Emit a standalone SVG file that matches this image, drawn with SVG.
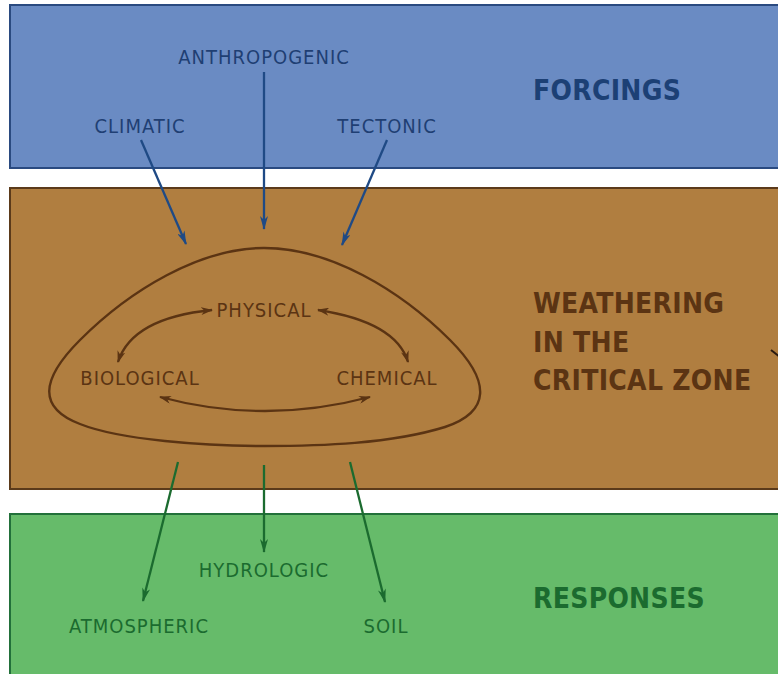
<svg xmlns="http://www.w3.org/2000/svg" width="778" height="674" viewBox="0 0 778 674">
  <style>
    .lbl { font-family: "DejaVu Sans Condensed", "DejaVu Sans", "Liberation Sans", sans-serif; font-stretch: condensed; font-size: 20px; text-anchor: middle; letter-spacing: 1px; }
    .ttl { font-family: "DejaVu Sans Condensed", "DejaVu Sans", "Liberation Sans", sans-serif; font-stretch: condensed; font-weight: bold; font-size: 28px; letter-spacing: 0.3px; }
    .blue { fill: #1f3f73; }
    .brown { fill: #5b3413; }
    .green { fill: #1b6b2f; }
    .aBlue { stroke: #1f4a85; stroke-width: 2.3; fill: none; marker-end: url(#hBlue); }
    .aGreen { stroke: #1b6b2f; stroke-width: 2.3; fill: none; marker-end: url(#hGreen); }
    .aBrown { stroke: #5b3413; stroke-width: 2.3; fill: none; marker-start: url(#hBrownS); marker-end: url(#hBrown); }
  </style>
  <defs>
    <marker id="hBlue" viewBox="0 0 14 8" refX="13" refY="4" markerWidth="14" markerHeight="8" markerUnits="userSpaceOnUse" orient="auto">
      <path d="M0,0 L14,4 L0,8 L4,4 Z" fill="#1f4a85"/>
    </marker>
    <marker id="hGreen" viewBox="0 0 14 8" refX="13" refY="4" markerWidth="14" markerHeight="8" markerUnits="userSpaceOnUse" orient="auto">
      <path d="M0,0 L14,4 L0,8 L4,4 Z" fill="#1b6b2f"/>
    </marker>
    <marker id="hBrown" viewBox="0 0 12 8" refX="11" refY="4" markerWidth="12" markerHeight="8" markerUnits="userSpaceOnUse" orient="auto">
      <path d="M0,0 L12,4 L0,8 L3.5,4 Z" fill="#5b3413"/>
    </marker>
    <marker id="hBrownS" viewBox="0 0 12 8" refX="1" refY="4" markerWidth="12" markerHeight="8" markerUnits="userSpaceOnUse" orient="auto">
      <path d="M12,0 L0,4 L12,8 L8.5,4 Z" fill="#5b3413"/>
    </marker>
  </defs>

  <rect width="778" height="674" fill="#ffffff"/>

  <!-- three horizontal bands -->
  <g id="forcings">
    <rect x="10" y="5" width="780" height="163" fill="#6a8bc3" stroke="#2a4a80" stroke-width="2"/>
    <text class="ttl" x="533" y="100" fill="#1c4075">FORCINGS</text>
  </g>
  <g id="weathering">
    <rect x="10" y="188" width="780" height="301" fill="#b07e40" stroke="#5b3a1a" stroke-width="2"/>
    <text class="ttl brown" x="533" y="313">WEATHERING</text>
    <text class="ttl brown" x="533" y="352">IN THE</text>
    <text class="ttl brown" x="533" y="390">CRITICAL ZONE</text>
  </g>
  <g id="responses">
    <rect x="10" y="514" width="780" height="170" fill="#66bb6a" stroke="#22703a" stroke-width="2"/>
    <text class="ttl green" x="533" y="608">RESPONSES</text>
  </g>

  <!-- forcing labels -->
  <g id="anthropogenic"><text class="lbl blue" x="264" y="64">ANTHROPOGENIC</text></g>
  <g id="climatic"><text class="lbl blue" x="140" y="133">CLIMATIC</text></g>
  <g id="tectonic"><text class="lbl blue" x="387" y="133">TECTONIC</text></g>

  <!-- weathering loop and processes -->
  <g id="loop">
    <path d="M264,248 C330,248 400,290 450,340 C492,382 490,412 445,427 C390,444 320,446 264,446 C205,446 120,440 80,424 C38,408 40,380 80,340 C130,290 200,248 264,248 Z" fill="none" stroke="#5b3413" stroke-width="2.4"/>
  </g>
  <g id="physical"><text class="lbl brown" x="264" y="317">PHYSICAL</text></g>
  <g id="biological"><text class="lbl brown" x="140" y="385">BIOLOGICAL</text></g>
  <g id="chemical"><text class="lbl brown" x="387" y="385">CHEMICAL</text></g>

  <!-- response labels -->
  <g id="hydrologic"><text class="lbl green" x="264" y="577">HYDROLOGIC</text></g>
  <g id="atmospheric"><text class="lbl green" x="139" y="633">ATMOSPHERIC</text></g>
  <g id="soil"><text class="lbl green" x="386" y="633">SOIL</text></g>

  <!-- connectors -->
  <g id="connectors">
    <line class="aBlue" x1="141" y1="140" x2="186" y2="244"/>
    <line class="aBlue" x1="264" y1="72" x2="264" y2="229"/>
    <line class="aBlue" x1="387" y1="140" x2="342" y2="245"/>

    <path class="aBrown" d="M118,362 Q132,318 212,310"/>
    <path class="aBrown" d="M318,310 Q396,322 408,362"/>
    <path class="aBrown" d="M160,397 Q265,425 370,397"/>

    <line class="aGreen" x1="178" y1="462" x2="143" y2="601"/>
    <line class="aGreen" x1="264" y1="465" x2="264" y2="552"/>
    <line class="aGreen" x1="350" y1="462" x2="385" y2="602"/>

    <line x1="771" y1="350" x2="780" y2="357" stroke="#2a1a10" stroke-width="2"/>
  </g>
</svg>
